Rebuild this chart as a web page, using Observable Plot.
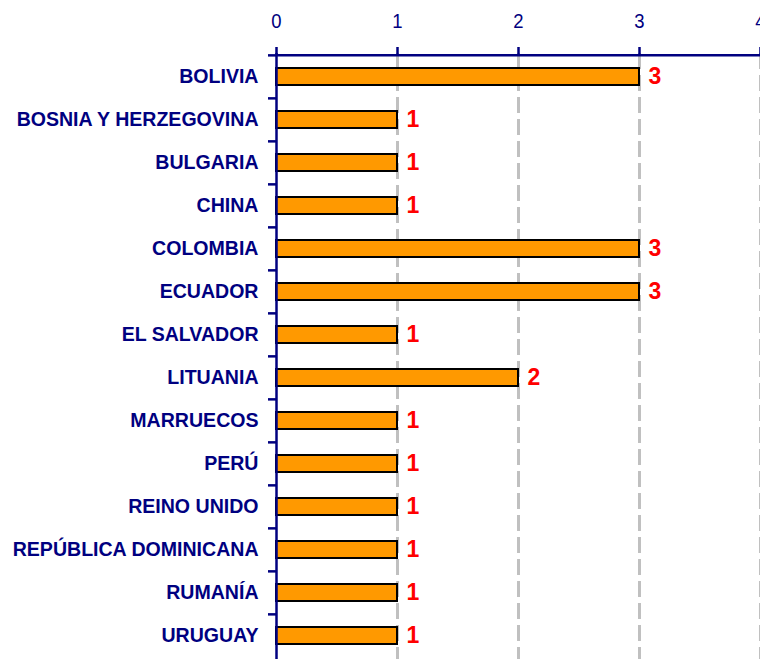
<!DOCTYPE html>
<html>
<head>
<meta charset="utf-8">
<script src="https://cdn.jsdelivr.net/npm/d3@7"></script>
<script src="https://cdn.jsdelivr.net/npm/@observablehq/plot@0.6"></script>
<style>
  html, body { margin: 0; padding: 0; background: #fff; }
  #chart svg { display: block; }
</style>
</head>
<body>
<div id="chart"></div>
<script>
const countries = ["BOLIVIA","BOSNIA Y HERZEGOVINA","BULGARIA","CHINA","COLOMBIA","ECUADOR","EL SALVADOR","LITUANIA","MARRUECOS","PERÚ","REINO UNIDO","REPÚBLICA DOMINICANA","RUMANÍA","URUGUAY"];
const counts = [3,1,1,1,3,3,1,2,1,1,1,1,1,1];
const xTicks = [0,1,2,3,4];

const data = countries.map((c, i) => ({country: c, value: counts[i]}));

const W = 760, H = 659, mTop = 53, mBottom = 0, mLeft = 276;
const step = (H - mTop - mBottom) / countries.length;
const navy = "#000080";

const chart = Plot.plot({
  width: W, height: H,
  marginTop: mTop, marginBottom: mBottom, marginLeft: mLeft, marginRight: 0,
  style: {fontFamily: "Liberation Sans, Arial, sans-serif", background: "#fff"},
  x: {domain: [0, 4]},
  y: {domain: countries, paddingInner: 0.6, paddingOuter: 0.3, align: 0.5},
  marks: [
    Plot.ruleX(xTicks.filter(d => d > 0), {stroke: "#c0c0c0", strokeWidth: 3, strokeDasharray: "16,6"}),
    Plot.barX(data, {y: "country", x: "value", fill: "#ff9900", stroke: "#000", strokeWidth: 2}),
    Plot.text(data, {y: "country", x: "value", text: d => String(d.value), textAnchor: "start", dx: 9, fill: "#ff0000", fontWeight: "bold", fontSize: 23}),
    Plot.ruleX([0], {stroke: navy, strokeWidth: 2.5}),
    Plot.ruleY(countries, {y: d => d, x1: -8/121, x2: 0, dy: -step/2, stroke: navy, strokeWidth: 2.5}),
    Plot.ruleY([0], {y: () => countries[0], x1: 0, x2: 4, dy: -step/2, stroke: navy, strokeWidth: 2.5}),
    Plot.axisX(xTicks, {anchor: "top", tickSize: 7, tickPadding: 19, tickFormat: "d", stroke: navy, strokeWidth: 2.5, color: navy, fontSize: 21, label: null, textAnchor: "middle"}),
    Plot.axisY({anchor: "left", tickSize: 0, tickPadding: 18, dy: -1, color: navy, fontSize: 21, fontWeight: "bold", label: null})
  ]
});
document.getElementById("chart").appendChild(chart);

// condense axis label glyphs (narrow typeface look)
function condense(selector, sx, fs) {
  chart.querySelectorAll(selector).forEach(g => {
    if (fs) g.setAttribute("font-size", fs);
    g.querySelectorAll("text").forEach(t => {
      if (fs) t.setAttribute("font-size", fs);
      const tr = t.getAttribute("transform") || "";
      t.setAttribute("transform", tr + ` scale(${sx},1)`);
    });
  });
}
const yTexts = [...chart.querySelectorAll('g[aria-label="y-axis tick label"] text')];
const bosnia = yTexts.find(t => t.textContent === "BOSNIA Y HERZEGOVINA");
const sy = bosnia ? Math.min(1, 242 / bosnia.getComputedTextLength()) : 0.85;
condense('g[aria-label="y-axis tick label"]', sy);
condense('g[aria-label="x-axis tick label"]', 0.88, 21);
</script>
</body>
</html>
